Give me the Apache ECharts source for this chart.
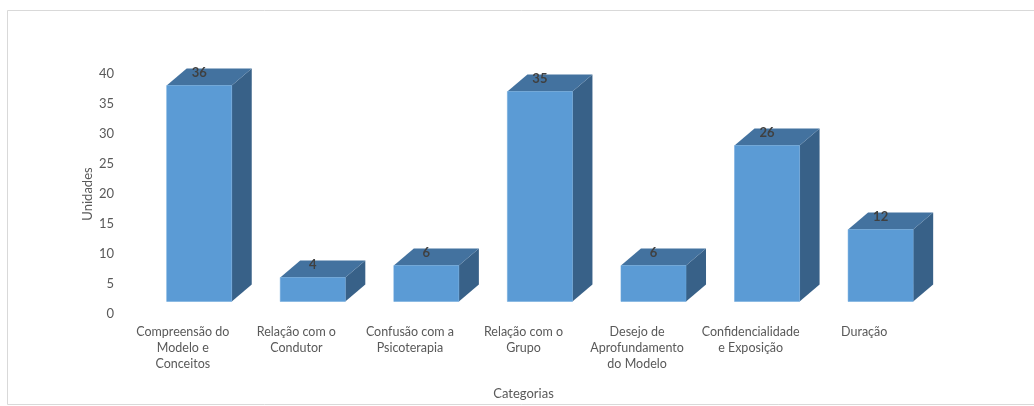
<!DOCTYPE html>
<html>
<head>
<meta charset="utf-8">
<script src="https://cdn.jsdelivr.net/npm/echarts@6/dist/echarts.min.js"></script>
<style>
html, body { margin: 0; padding: 0; background: #fff; }
#chart { width: 1034px; height: 406px; }
</style>
</head>
<body>
<div id="chart"></div>
<script>
// categorias e valores
var categories = [
  'Compreensão do\nModelo e\nConceitos',
  'Relação com o\nCondutor',
  'Confusão com a\nPsicoterapia',
  'Relação com o\nGrupo',
  'Desejo de\nAprofundamento\ndo Modelo',
  'Confidencialidade\ne Exposição',
  'Duração'
];
var values = [36, 4, 6, 35, 6, 26, 12];
var yTicks = [0, 5, 10, 15, 20, 25, 30, 35, 40];

var FONT = 'Lato';
var chart = echarts.init(document.getElementById('chart'));

// barra em "3D": frente, topo e lado
function renderBox(params, api) {
  var i = api.value(0);
  var v = api.value(1);
  var base = api.coord([i, 0]);
  var top = api.coord([i, v]);
  var band = api.size([1, 0])[0];
  var w = band * 0.573;
  var lift = 12.5;   // deslocamento da face frontal
  var dx = 20, dy = -17;   // profundidade
  var x0 = base[0] - band * 0.142;
  var x1 = x0 + w;
  var yb = base[1] - lift;
  var yt = top[1] - lift;
  return {
    type: 'group',
    children: [
      {
        type: 'polygon',
        shape: { points: [[x1, yt], [x1 + dx, yt + dy], [x1 + dx, yb + dy], [x1, yb]] },
        style: { fill: '#386188' }
      },
      {
        type: 'polygon',
        shape: { points: [[x0, yt], [x0 + dx, yt + dy], [x1 + dx, yt + dy], [x1, yt]] },
        style: { fill: '#43729F' }
      },
      {
        type: 'rect',
        shape: { x: x0, y: yt, width: w, height: yb - yt },
        style: { fill: '#5B9BD5', stroke: '#6aa6dc', lineWidth: 0.5 }
      },
      {
        type: 'text',
        style: {
          text: String(v),
          x: (x0 + x1) / 2,
          y: yt + dy + 4,
          align: 'center',
          verticalAlign: 'middle',
          fill: '#404040',
          font: 'bold 13px ' + FONT
        }
      }
    ]
  };
}

var option = {
  backgroundColor: '#fff',
  animation: false,
  graphic: [{
    type: 'rect',
    shape: { x: 7.5, y: 10.5, width: 1040, height: 394 },
    style: { fill: 'none', stroke: '#d9d9d9', lineWidth: 1 }
  }],
  grid: { left: 126, right: 113, top: 74, bottom: 92 },
  xAxis: {
    type: 'category',
    data: categories,
    name: 'Categorias',
    nameLocation: 'middle',
    nameGap: 73,
    nameMoveOverlap: false,
    nameTextStyle: { color: '#595959', fontSize: 13, fontFamily: FONT },
    axisLine: { show: false },
    axisTick: { show: false },
    axisLabel: {
      interval: 0,
      margin: 10,
      color: '#595959',
      fontSize: 12.5,
      lineHeight: 16,
      fontFamily: FONT
    }
  },
  yAxis: {
    type: 'value',
    min: yTicks[0],
    max: yTicks[yTicks.length - 1],
    interval: yTicks[1] - yTicks[0],
    name: 'Unidades',
    nameLocation: 'middle',
    nameGap: 32,
    nameMoveOverlap: false,
    nameTextStyle: { color: '#595959', fontSize: 13, fontFamily: FONT },
    axisLine: { show: false },
    axisTick: { show: false },
    splitLine: { show: false },
    axisLabel: { color: '#595959', fontSize: 13, margin: 12, fontFamily: FONT }
  },
  series: [{
    type: 'custom',
    renderItem: renderBox,
    data: values.map(function (v, i) { return [i, v]; }),
    encode: { x: 0, y: 1 },
    clip: false
  }]
};

chart.setOption(option);
</script>
</body>
</html>
